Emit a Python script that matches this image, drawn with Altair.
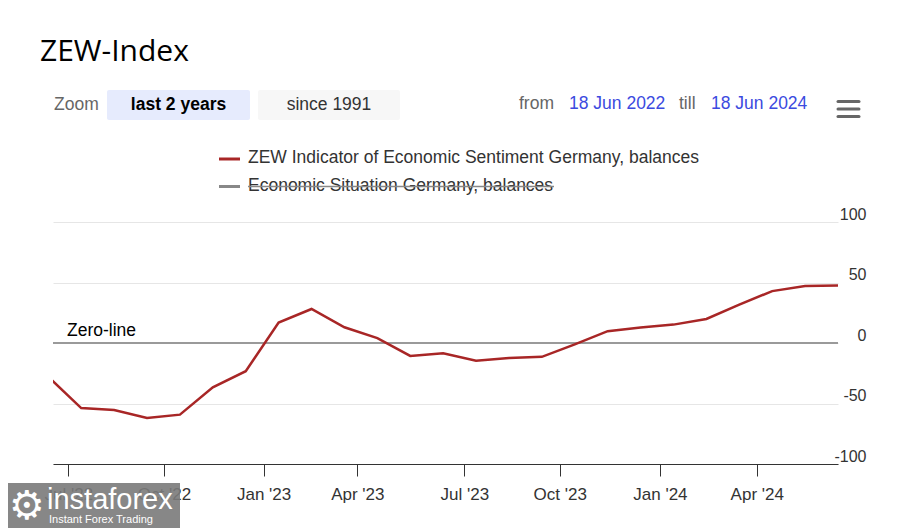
import json
import altair as alt
import numpy as np
import pandas as pd

# ---- data (monthly ZEW release dates and values) ----
dates = [
    "2022-06-14", "2022-07-12", "2022-08-16", "2022-09-13", "2022-10-18", "2022-11-15", "2022-12-13",
    "2023-01-17", "2023-02-21", "2023-03-21", "2023-04-18", "2023-05-16", "2023-06-13",
    "2023-07-11", "2023-08-15", "2023-09-12", "2023-10-17", "2023-11-14", "2023-12-12",
    "2024-01-15", "2024-02-20", "2024-03-15", "2024-04-16", "2024-05-14", "2024-06-18",
]
sentiment = [
    -28.0, -53.8, -55.3, -61.9, -59.2, -36.7, -23.3,
    16.9, 28.1, 13.0, 4.1, -10.7, -8.5,
    -14.7, -12.3, -11.4, -1.1, 9.8, 12.8,
    15.2, 19.9, 31.7, 42.9, 47.1, 47.5,
]
range_from = "2022-06-18"
range_till = "2024-06-18"
x_tick_dates = ["2022-07-01", "2022-10-01", "2023-01-01", "2023-04-01",
                "2023-07-01", "2023-10-01", "2024-01-01", "2024-04-01"]
y_ticks = [-100, -50, 0, 50, 100]
series_name = "ZEW Indicator of Economic Sentiment Germany, balances"
hidden_name = "Economic Situation Germany, balances"

# ordinal (Highstock-style) x axis: points equally spaced, dates interpolated between points
dt = pd.to_datetime(dates)
day_num = (dt - dt[0]).days.to_numpy().astype(float)
idx = np.arange(len(dates), dtype=float)


def ord_pos(d):
    return float(np.interp((pd.Timestamp(d) - dt[0]).days, day_num, idx))


tick_pos = [round(ord_pos(d), 6) for d in x_tick_dates]
tick_lab = [pd.Timestamp(d).strftime("%b '%y") for d in x_tick_dates]
x_lo, x_hi = ord_pos(range_from), ord_pos(range_till)

df = pd.DataFrame({"i": idx, "date": dates, "value": sentiment})

FONT = "Liberation Sans"
OX, OY = 53, 222          # page position of plot origin
W, H = 785, 242
RED = "#a82626"
TS = 17.5

one = pd.DataFrame({"a": [0]})


def text(s, x, y, size=TS, color="#333333", weight="normal", font=FONT, align="left", baseline="middle"):
    return alt.Chart(one).mark_text(
        text=s, fontSize=size, color=color, fontWeight=weight, font=font, align=align, baseline=baseline
    ).encode(x=alt.value(x - OX), y=alt.value(y - OY))


def rect(x1, x2, y1, y2, color, opacity=1.0, radius=0):
    return alt.Chart(one).mark_rect(color=color, opacity=opacity, cornerRadius=radius).encode(
        x=alt.value(x1 - OX), x2=alt.value(x2 - OX), y=alt.value(y1 - OY), y2=alt.value(y2 - OY)
    )


def hline(x1, x2, y, color, width=2, cap="butt"):
    return alt.Chart(one).mark_rule(color=color, strokeWidth=width, strokeCap=cap).encode(
        x=alt.value(x1 - OX), x2=alt.value(x2 - OX), y=alt.value(y - OY)
    )


xscale = alt.Scale(domain=[x_lo, x_hi], nice=False, zero=False)
yscale = alt.Scale(domain=[-100, 100])

x_label_expr = f"{json.dumps(tick_lab)}[indexof({json.dumps(tick_pos)}, datum.value)]"

line = alt.Chart(df).mark_line(color=RED, strokeWidth=2.5, clip=True).encode(
    x=alt.X("i:Q", scale=xscale,
            axis=alt.Axis(values=tick_pos, labelExpr=x_label_expr, title=None, grid=False,
                          labelFontSize=17, labelFont=FONT, labelColor="#333333",
                          tickSize=12, tickColor="#333333", domainColor="#333333",
                          labelPadding=10, labelFlush=False, labelOverlap=False)),
    y=alt.Y("value:Q", scale=yscale,
            axis=alt.Axis(values=y_ticks, orient="right", title=None, grid=True, gridColor="#e6e6e6",
                          domain=False, ticks=False, labelAlign="right", labelPadding=28,
                          labelBaseline="bottom", labelFontSize=16, labelFont=FONT,
                          labelColor="#333333", labelFlush=False,
                          labelExpr="datum.value < 0 ? '-' + abs(datum.value) : '' + datum.value")),
    tooltip=["date:N", "value:Q"],
)

zero = alt.Chart(pd.DataFrame({"v": [0]})).mark_rule(color="#9a9a9a", strokeWidth=2).encode(
    y=alt.Y("v:Q", scale=yscale)
)

layers = [
    zero,
    line,
    text("Zero-line", 67, 331, color="#000000"),
    # title
    text("ZEW-Index", 40, 52, size=30, color="#000000", font="Open Sans"),
    # zoom buttons
    text("Zoom", 54, 105, color="#666666"),
    rect(107, 250, 90, 120, "#e6ebfd", radius=2),
    text("last 2 years", 178.5, 105, weight="bold", color="#000000", align="center"),
    rect(258, 400, 90, 120, "#f7f7f7", radius=2),
    text("since 1991", 329, 105, color="#333333", align="center"),
    # range inputs
    text("from", 519, 104, color="#666666"),
    text("18 Jun 2022", 569, 104, color="#3b4ae0"),
    text("till", 679, 104, color="#666666"),
    text("18 Jun 2024", 711, 104, color="#3b4ae0"),
    # menu icon
    hline(838, 859, 101.5, "#666666", width=3, cap="round"),
    hline(838, 859, 109, "#666666", width=3, cap="round"),
    hline(838, 859, 116.5, "#666666", width=3, cap="round"),
    # legend
    hline(219, 240, 159, RED, width=3),
    text(series_name, 248, 158),
    hline(219, 240, 186.5, "#888888", width=3),
    text(hidden_name, 248, 186),
    hline(248, 554, 186.5, "#888888", width=1.3),
    # watermark
    rect(8, 180, 483, 535, "#7a7a7a", opacity=0.9),
    text("\u2699", 27, 507, size=40, color="#ffffff", font="DejaVu Sans", align="center"),
    text("instaforex", 47, 509, size=29, color="#ffffff", baseline="alphabetic"),
    text("Instant Forex Trading", 49, 523, size=11, color="#ffffff", baseline="alphabetic"),
]

chart = alt.layer(*layers).properties(
    width=W, height=H,
    autosize=alt.AutoSizeParams(type="none"),
    padding={"left": OX - 8, "top": OY - 8, "right": 60, "bottom": 70},
    background="white",
).configure_view(stroke=None)

chart.save("out.html", embed_options={"renderer": "svg", "actions": False})
